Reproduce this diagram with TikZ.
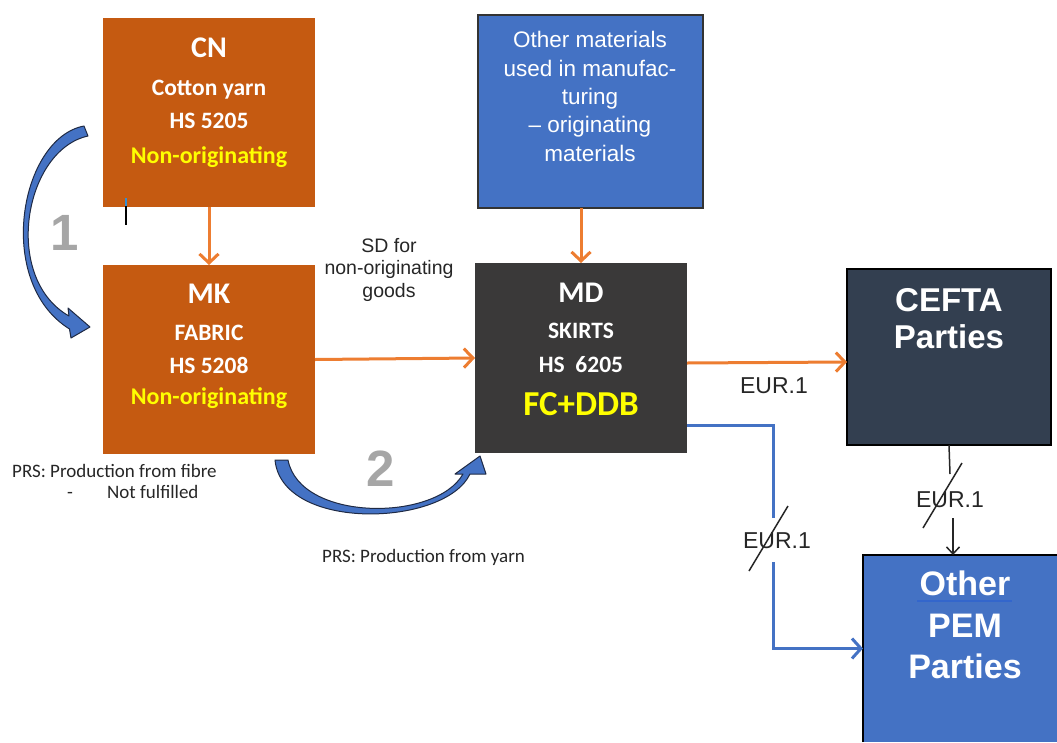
\documentclass[tikz,border=0pt]{standalone}
\usepackage{fontspec}
\setmainfont{Liberation Sans}
\newfontfamily\calib{Carlito}
\usetikzlibrary{arrows.meta}
\definecolor{oBox}{HTML}{C55A11}
\definecolor{oLine}{HTML}{ED7D31}
\definecolor{bBox}{HTML}{4472C4}
\definecolor{dBox}{HTML}{3A3939}
\definecolor{cBox}{HTML}{333F50}
\definecolor{yText}{HTML}{FFFF00}
\definecolor{gNum}{HTML}{A6A6A6}
\definecolor{arrEdge}{HTML}{1F2A44}
\definecolor{ulBlue}{HTML}{3366CC}
\tikzset{
  boxnode/.style={inner sep=0pt, outer sep=0pt},
  headtxt/.style={anchor=base, inner sep=0pt, text=white, font=\calib\bfseries\fontsize{30}{30}\selectfont},
  subtxt/.style={anchor=base, inner sep=0pt, text=white, font=\calib\bfseries\fontsize{23.5}{23.5}\selectfont},
  yeltxt/.style={anchor=base, inner sep=0pt, text=yText, font=\calib\bfseries\fontsize{24}{24}\selectfont},
  prstxt/.style={anchor=base west, inner sep=0pt, text=black!85, font=\calib\fontsize{19}{19}\selectfont},
  eurtxt/.style={anchor=base, inner sep=0pt, text=black!85, font=\fontsize{23}{23}\selectfont},
  numtxt/.style={inner sep=0pt, text=gNum, font=\bfseries\fontsize{51}{51}\selectfont},
  oarrow/.style={draw=oLine, line width=3pt, -{Straight Barb[length=9pt,width=19pt]}},
  barrow/.style={draw=bBox, line width=3pt},
  blockarrow/.style={fill=bBox, draw=arrEdge, line width=1pt, line join=round},
  slash/.style={draw=black!85, line width=1.5pt},
  blkline/.style={draw=black!85, line width=1.5pt}
}
\begin{document}
\begin{tikzpicture}[x=1pt,y=-1pt]
\useasboundingbox (0,0) rectangle (1057,742);

% boxes
\node[boxnode, fill=oBox, minimum width=212pt, minimum height=189pt] (cn) at (209,112.5) {};
\node[boxnode, fill=oBox, minimum width=212pt, minimum height=189pt] (mk) at (209,359.5) {};
\node[boxnode, fill=bBox, draw=black!80, line width=1.2pt, minimum width=225pt, minimum height=193pt] (oth) at (590.5,111.5) {};
\node[boxnode, fill=dBox, minimum width=212pt, minimum height=190pt] (md) at (581,358) {};
\node[boxnode, fill=cBox, draw=black, line width=1.4pt, minimum width=204pt, minimum height=176pt] (cefta) at (949,357) {};
\node[boxnode, fill=bBox, minimum width=194pt, minimum height=187pt, anchor=north west] (pem) at (863,555) {};
\draw[black, line width=1.4pt] (pem.south west) -- (pem.north west) -- (pem.north east);

% box texts
\node[headtxt] (cnA) at (209,57) {CN};
\node[subtxt]  (cnB) at (209,95) {Cotton yarn};
\node[subtxt]  (cnC) at (209,128) {HS 5205};
\node[yeltxt]  (cnD) at (209,163) {Non-originating};

\node[headtxt] (mkA) at (209,303) {MK};
\node[subtxt]  (mkB) at (209,340) {FABRIC};
\node[subtxt]  (mkC) at (209,373) {HS 5208};
\node[yeltxt]  (mkD) at (209,404) {Non-originating};

\node[headtxt] (mdA) at (581,302) {MD};
\node[subtxt]  (mdB) at (581,338) {SKIRTS};
\node[subtxt]  (mdC) at (581,372) {HS\ \ 6205};
\node[anchor=base, inner sep=0pt, text=yText, font=\calib\bfseries\fontsize{35}{35}\selectfont] (mdD) at (581,415) {FC+DDB};

\node[inner sep=0pt, text=white, align=center, font=\fontsize{22.5}{28.3}\selectfont] (othT) at (590,96.4)
  {Other materials\\used in manufac-\\turing\\– originating\\materials};

\node[inner sep=0pt, text=white, align=center, font=\bfseries\fontsize{33}{37}\selectfont] (ceftaT) at (949,319)
  {CEFTA\\Parties};

\node[inner sep=0pt, text=white, align=center, font=\bfseries\fontsize{34}{41.5}\selectfont] (pemT) at (965,625)
  {Other\\PEM\\Parties};
\draw[ulBlue, line width=1.8pt] (917,601) -- (1012,601);

% cursor mark
\draw[bBox!80!cyan, line width=1.2pt] (126,198) -- (126,206);
\draw[black, line width=1.2pt] (126,206) -- (126,225);

% side labels
\node[inner sep=0pt, text=black!85, align=center, font=\fontsize{19.5}{22.5}\selectfont] (sd) at (389,269.5)
  {SD for\\non-originating\\goods};
\node[prstxt] (prs1) at (12,477) {PRS: Production from fibre};
\node[prstxt] (prs2) at (67,498) {-};
\node[prstxt] (prs3) at (107,498) {Not fulfilled};
\node[prstxt] (prs4) at (322,562) {PRS: Production from yarn};

% orange connectors
\draw[oarrow] (cn.south) -- (mk.north);
\draw[oarrow] (md.north |- oth.south) -- (md.north);
\draw[oarrow] (mk.east) -- (md.west);
\draw[oarrow] ([yshift=-5pt]md.east) -- ([yshift=-5pt]cefta.west);
\node[eurtxt] (e1) at (774,393) {EUR.1};

% blue connector MD -> other PEM
\coordinate (b0) at (773,425);
\coordinate (b1) at (773,518);
\coordinate (b2) at (773,562);
\draw[barrow] (md.east |- b0) -| (b1);
\draw[barrow, -{Straight Barb[length=9pt,width=20pt]}] (b2) |- (pem.west);
\node[eurtxt] (e2) at (777,548) {EUR.1};
\coordinate (s1) at (788,506);
\coordinate (s2) at (749,571);
\draw[slash] (s1) -- (s2);

% black connector CEFTA -> other PEM
\coordinate (c1) at (950,474);
\coordinate (c2) at (953,518);
\draw[blkline] (cefta.south) -- (c1);
\draw[blkline, -{Straight Barb[length=7pt,width=13pt]}] (c2) -- (c2 |- pem.north);
\node[eurtxt] (e3) at (950,507) {EUR.1};
\coordinate (s3) at (962,463);
\coordinate (s4) at (923,528);
\draw[slash] (s3) -- (s4);

% curved block arrows
\fill[blockarrow] (84,126) .. controls (20,138) and (-6,282) .. (69.5,329)
  -- (71,338) -- (90,327) -- (68,308) -- (69,316)
  .. controls (2,278) and (24,150) .. (88,136) -- cycle;
\node[numtxt] (n1) at (65,232.5) {1};

\fill[blockarrow] (275,460) .. controls (282,532) and (445,527) .. (470,474)
  -- (486,474) -- (480,456) -- (455,474) -- (463,474)
  .. controls (436,522) and (300,522) .. (288,460) -- cycle;
\node[numtxt] (n2) at (381,469) {2};
\end{tikzpicture}
\end{document}
